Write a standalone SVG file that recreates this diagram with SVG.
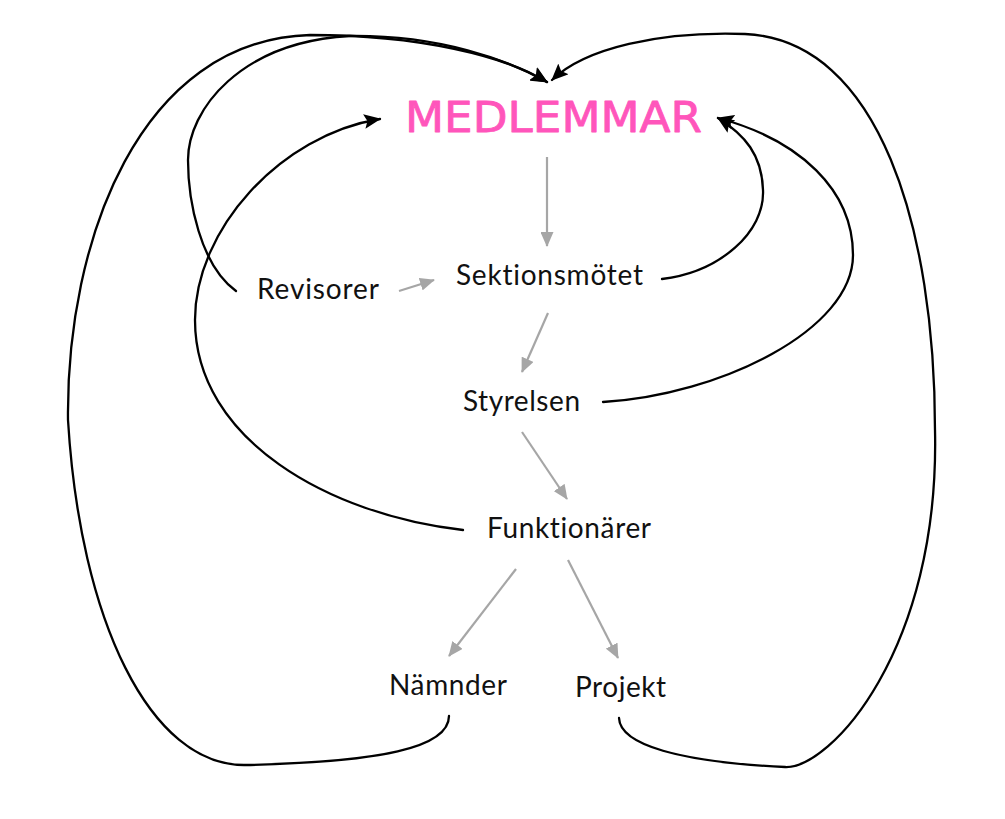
<svg xmlns="http://www.w3.org/2000/svg" width="1005" height="819" viewBox="0 0 1005 819">
<defs>
<style>
.lbl{font-family:Lato,"Noto Sans","Liberation Sans",sans-serif;font-size:28px;fill:#111;font-variant-ligatures:none}
.title{font-family:"DejaVu Sans","Noto Sans",sans-serif;font-size:43px;fill:#ff55bb;stroke:#ff55bb;stroke-width:0.8;stroke-linejoin:round}
.blk{fill:none;stroke:#000;stroke-width:2.3;stroke-linecap:round}
.gry{fill:none;stroke:#a6a6a6;stroke-width:2.2}
</style>
<marker id="ab" viewBox="0 0 16 14" refX="15" refY="7" markerWidth="17" markerHeight="15" markerUnits="userSpaceOnUse" orient="auto">
<path d="M0,0 L16,7 L0,14 L3,7 Z" fill="#000"/>
</marker>
<marker id="ag" viewBox="0 0 16 14" refX="15" refY="7" markerWidth="15" markerHeight="13" markerUnits="userSpaceOnUse" orient="auto">
<path d="M0,0 L16,7 L0,14 Z" fill="#a6a6a6"/>
</marker>
</defs>
<rect width="1005" height="819" fill="#fff"/>
<g id="connectors">
<path class="blk" marker-end="url(#ab)" d="M449,716 C449,748 380,762 245,765 C150,766 80,620 68,420 C66,240 140,40 310,35 C420,35 505,56 547,82"/>
<path class="blk" marker-end="url(#ab)" d="M236,291 C200,265 188,200 188,160 C188,110 240,42 350,36 C440,35 508,60 547,82"/>
<path class="blk" marker-end="url(#ab)" d="M619,718 C620,745 680,762 785,767 C830,769 940,650 935,430 C935,230 880,40 745,34 C660,31 585,48 552,80"/>
<path class="blk" marker-end="url(#ab)" d="M463,530 C330,515 195,440 195,320 C195,230 280,135 380,119"/>
<path class="blk" marker-end="url(#ab)" d="M662,279 C720,272 765,232 763,190 C762,155 745,135 718,118"/>
<path class="blk" marker-end="url(#ab)" d="M603,402 C720,395 853,330 853,255 C853,190 800,140 718,118"/>
<path class="gry" marker-end="url(#ag)" d="M547,157 L547,246"/>
<path class="gry" marker-end="url(#ag)" d="M399,291 L434,280"/>
<path class="gry" marker-end="url(#ag)" d="M548,313 L522,372"/>
<path class="gry" marker-end="url(#ag)" d="M522,432 L567,499"/>
<path class="gry" marker-end="url(#ag)" d="M516,569 L449,656"/>
<path class="gry" marker-end="url(#ag)" d="M568,560 L618,658"/>
</g>
<g id="medlemmar"><text class="title" x="405" y="132" textLength="297" lengthAdjust="spacingAndGlyphs">MEDLEMMAR</text></g>
<g id="revisorer"><text class="lbl" x="257" y="299" textLength="122">Revisorer</text></g>
<g id="sektionsmotet"><text class="lbl" x="456" y="285" textLength="187">Sektionsmötet</text></g>
<g id="styrelsen"><text class="lbl" x="463" y="411" textLength="117">Styrelsen</text></g>
<g id="funktionarer"><text class="lbl" x="487" y="538" textLength="164">Funktionärer</text></g>
<g id="namnder"><text class="lbl" x="389" y="695" textLength="118">Nämnder</text></g>
<g id="projekt"><text class="lbl" x="575" y="697" textLength="91">Projekt</text></g>
</svg>
